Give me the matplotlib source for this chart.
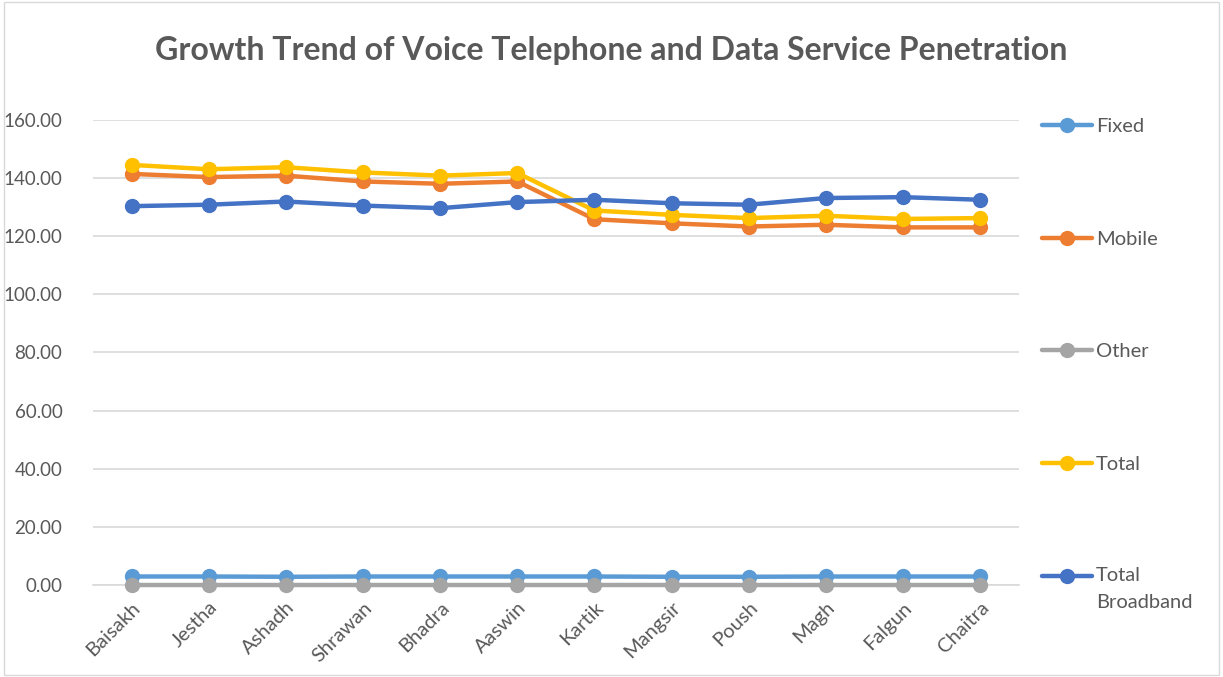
import matplotlib.pyplot as plt
from matplotlib.lines import Line2D
from matplotlib.patches import Rectangle

plt.rcParams["font.family"] = ["Lato", "DejaVu Sans"]

months = ["Baisakh", "Jestha", "Ashadh", "Shrawan", "Bhadra", "Aaswin",
          "Kartik", "Mangsir", "Poush", "Magh", "Falgun", "Chaitra"]

fixed = [2.9, 2.9, 2.8, 2.9, 2.9, 2.9, 2.9, 2.8, 2.8, 2.9, 2.9, 2.9]
mobile = [141.4, 140.3, 140.8, 138.8, 138.0, 138.8, 125.8, 124.4, 123.3, 123.9, 123.0, 123.0]
other = [0.1, 0.1, 0.1, 0.1, 0.1, 0.1, 0.1, 0.1, 0.1, 0.1, 0.1, 0.1]
total = [144.5, 143.0, 143.7, 141.9, 140.8, 141.7, 128.8, 127.3, 126.2, 127.0, 125.9, 126.2]
broadband = [130.3, 130.8, 131.9, 130.5, 129.6, 131.7, 132.5, 131.3, 130.8, 133.1, 133.4, 132.5]

series = [
    ("Fixed", fixed, "#5B9BD5"),
    ("Mobile", mobile, "#ED7D31"),
    ("Other", other, "#A5A5A5"),
    ("Total", total, "#FFC000"),
    ("Total\nBroadband", broadband, "#4472C4"),
]

yticks = [0, 20, 40, 60, 80, 100, 120, 140, 160]

fig = plt.figure(figsize=(12.23, 6.77), dpi=100)
ax = fig.add_axes([0.076, 0.136, 0.757, 0.687])

x = list(range(len(months)))
for i, (name, vals, col) in enumerate(series):
    ax.plot(x, vals, color=col, lw=3.2, marker="o", markersize=10,
            solid_capstyle="round", zorder=3 + i, clip_on=False)

ax.set_xlim(-0.5, len(months) - 0.5)
ax.set_ylim(0, 160)
ax.set_yticks(yticks)
ax.set_yticklabels([f"{v:.2f}" for v in yticks])
ax.set_xticks(x)
ax.set_xticklabels(months, rotation=45, ha="right", rotation_mode="anchor")
ax.tick_params(axis="y", length=0, labelsize=13.5, colors="#595959", pad=22)
ax.tick_params(axis="x", length=0, labelsize=14.5, colors="#595959", pad=10)
ax.grid(axis="y", color="#D9D9D9", lw=1.2)
ax.set_axisbelow(True)
for s in ["top", "right", "left"]:
    ax.spines[s].set_visible(False)
ax.spines["bottom"].set_color("#D9D9D9")
ax.spines["bottom"].set_linewidth(1.2)

fig.text(0.5, 0.925, "Growth Trend of Voice Telephone and Data Service Penetration",
         ha="center", va="center", fontsize=23, fontweight="bold", color="#595959")

# legend on the right, spread down the plot height
W, H = 1223, 677
leg_y = [125, 238, 350, 463, 576]
for (name, vals, col), yp in zip(series, leg_y):
    yf = 1 - yp / H
    fig.add_artist(Line2D([1042 / W, 1092 / W], [yf, yf], color=col, lw=3.2,
                          solid_capstyle="round", transform=fig.transFigure))
    fig.add_artist(Line2D([1067 / W], [yf], color=col, marker="o", markersize=10,
                          transform=fig.transFigure))
    if "\n" in name:
        fig.text(1096 / W, yf + 9 / H, name, ha="left", va="top",
                 fontsize=14.5, color="#595959", linespacing=1.75)
    else:
        fig.text(1096 / W, yf - 2 / H, name, ha="left", va="center",
                 fontsize=14.5, color="#595959")

fig.add_artist(Rectangle((0.003, 0.003), 0.994, 0.994, transform=fig.transFigure,
                         fill=False, edgecolor="#D9D9D9", lw=1))

fig.savefig("out.png", dpi=100)
